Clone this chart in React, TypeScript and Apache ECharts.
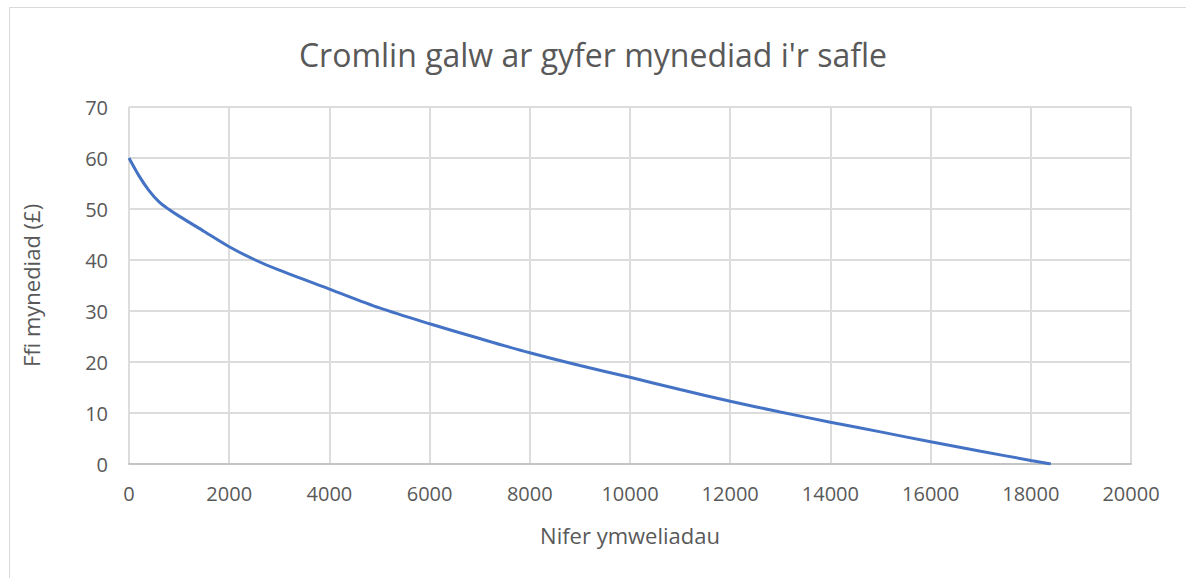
import React, { useEffect, useRef } from "react";
import * as echarts from "echarts";

const TITLE = "Cromlin galw ar gyfer mynediad i'r safle";
const X_NAME = "Nifer ymweliadau";
const Y_NAME = "Ffi mynediad (£)";

const visits = [0, 200, 400, 600, 800, 1000, 1500, 2000, 2500, 3000, 4000, 5000, 6000, 7000, 8000, 9000, 10000, 11000, 12000, 13000, 14000, 15000, 16000, 17000, 18000, 18400];
const fee = [60, 56.5, 53.6, 51.4, 49.9, 48.6, 45.6, 42.6, 40.1, 38.0, 34.3, 30.6, 27.5, 24.6, 21.8, 19.3, 17.0, 14.6, 12.3, 10.2, 8.2, 6.3, 4.35, 2.5, 0.7, 0];

const FONT = "'Open Sans', 'Noto Sans', sans-serif";

export default function App() {
  const ref = useRef<HTMLDivElement>(null);
  useEffect(() => {
    if (!ref.current) return;
    const chart = echarts.init(ref.current, null, { renderer: "svg" });
    const data = visits.map((v, i) => [v, fee[i]]);
    chart.setOption({
      animation: false,
      backgroundColor: "#ffffff",
      textStyle: { fontFamily: FONT },
      title: {
        text: TITLE,
        left: "center",
        top: 33,
        textStyle: { fontFamily: FONT, fontSize: 32, fontWeight: "normal", color: "#595959" },
      },
      graphic: [
        {
          type: "rect",
          shape: { x: 9.5, y: 7.5, width: 1200, height: 600 },
          style: { fill: "none", stroke: "#d9d9d9", lineWidth: 1 },
          silent: true,
        },
      ],
      grid: { left: 129, right: 55, top: 107, bottom: 114, containLabel: false },
      xAxis: {
        type: "value",
        min: 0,
        max: 20000,
        interval: 2000,
        name: X_NAME,
        nameLocation: "middle",
        nameGap: 60,
        nameTextStyle: { fontFamily: FONT, fontSize: 22, color: "#595959" },
        axisLine: { show: true, lineStyle: { color: "#c4c4c4", width: 2 } },
        axisTick: { show: false },
        axisLabel: {
          fontFamily: FONT,
          fontSize: 20,
          color: "#595959",
          margin: 19,
          formatter: (v: number) => String(v),
        },
        splitLine: { show: true, lineStyle: { color: "#dcdcdc", width: 2 } },
      },
      yAxis: {
        type: "value",
        min: 0,
        max: 70,
        interval: 10,
        name: Y_NAME,
        nameLocation: "middle",
        nameGap: 87,
        nameRotate: 90,
        nameTextStyle: { fontFamily: FONT, fontSize: 22, color: "#595959" },
        axisLine: { show: false },
        axisTick: { show: false },
        axisLabel: {
          fontFamily: FONT,
          fontSize: 20,
          color: "#595959",
          margin: 21,
          formatter: (v: number) => String(v),
        },
        splitLine: { show: true, lineStyle: { color: "#dcdcdc", width: 2 } },
      },
      series: [
        {
          type: "line",
          data,
          smooth: 0.3,
          showSymbol: false,
          symbol: "none",
          lineStyle: { color: "#4472c4", width: 3 },
        },
      ],
    });
    return () => chart.dispose();
  }, []);
  return (
    <div
      ref={ref}
      style={{ position: "absolute", left: 0, top: 0, width: 1186, height: 578 }}
    />
  );
}
